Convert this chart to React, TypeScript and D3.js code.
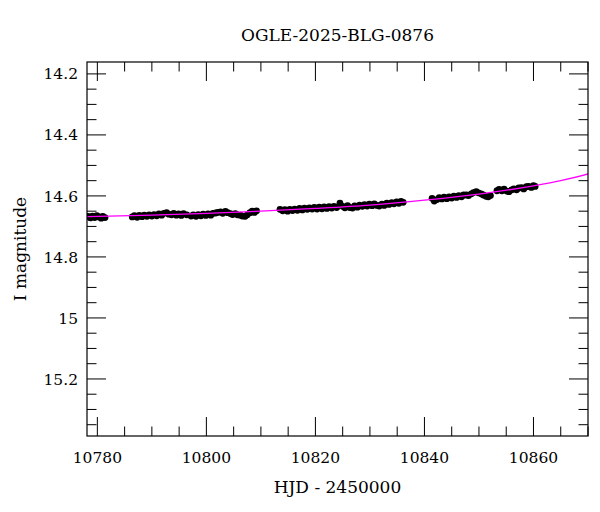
import React from "react";
import * as d3 from "d3";

const TITLE = "OGLE-2025-BLG-0876";
const X_LABEL = "HJD - 2450000";
const Y_LABEL = "I magnitude";

const X_DOMAIN = [10778.1, 10870];
const Y_DOMAIN = [14.161, 15.387];
const X_MAJOR = [10780, 10800, 10820, 10840, 10860];
const Y_MAJOR = [14.2, 14.4, 14.6, 14.8, 15, 15.2];
const Y_MAJOR_LABELS = ["14.2", "14.4", "14.6", "14.8", "15", "15.2"];

// observations (HJD - 2450000)
const hjd = [
  10778.3, 10778.7, 10779.1, 10779.5, 10779.9, 10780.3, 10780.7, 10781.0, 10781.4,
  10786.4, 10786.8, 10787.3, 10787.7, 10788.2, 10788.6, 10789.1, 10789.5, 10790.0, 10790.4,
  10790.9, 10791.3, 10791.8, 10792.2, 10792.7, 10793.1, 10793.6, 10794.0, 10794.5, 10794.9,
  10795.4, 10795.8, 10796.4,
  10797.2, 10797.6, 10798.1, 10798.5, 10799.0, 10799.4, 10799.9, 10800.3, 10800.8, 10801.2,
  10801.7, 10802.1, 10802.6, 10803.0, 10803.5, 10803.9, 10804.4, 10804.8, 10805.3, 10805.7,
  10806.2, 10806.6, 10807.1, 10807.5, 10808.0, 10808.4, 10808.8, 10809.2,
  10813.5, 10814.0, 10814.4, 10814.9, 10815.3, 10815.8, 10816.2, 10816.7, 10817.1, 10817.6,
  10818.0, 10818.5, 10818.9, 10819.4, 10819.8, 10820.3, 10820.7, 10821.2, 10821.6, 10822.1,
  10822.5, 10823.0, 10823.4, 10823.9, 10824.5, 10825.0, 10825.4, 10825.9, 10826.3, 10826.8,
  10827.2, 10827.7, 10828.1, 10828.6, 10829.0, 10829.5, 10829.9, 10830.4, 10830.8, 10831.3,
  10831.7, 10832.2, 10832.6, 10833.1, 10833.5, 10834.0, 10834.4, 10834.9, 10835.3, 10835.7,
  10836.1,
  10841.4, 10841.8, 10842.3, 10842.7, 10843.2, 10843.6, 10844.1, 10844.5, 10845.0, 10845.4,
  10845.9, 10846.3, 10846.8, 10847.2, 10847.7, 10848.1, 10848.6, 10849.0, 10849.5, 10849.9,
  10850.4, 10850.8, 10851.3, 10851.7, 10852.1,
  10853.3, 10853.7, 10854.2, 10854.6, 10855.1, 10855.5, 10856.0, 10856.4, 10856.9, 10857.3,
  10857.8, 10858.2, 10858.7, 10859.1, 10859.6, 10860.0, 10860.3,
];

const imag = [
  14.667, 14.672, 14.666, 14.671, 14.665, 14.669, 14.673, 14.667, 14.671,
  14.669, 14.665, 14.670, 14.664, 14.668, 14.663, 14.667, 14.662, 14.666, 14.661,
  14.665, 14.659, 14.663, 14.657, 14.655, 14.660, 14.662, 14.657, 14.663, 14.659,
  14.664, 14.658, 14.662,
  14.666, 14.662, 14.667, 14.661, 14.665, 14.660, 14.664, 14.659, 14.663, 14.657,
  14.656, 14.654, 14.652, 14.657, 14.651, 14.655, 14.658, 14.661, 14.658, 14.662,
  14.663, 14.666, 14.667, 14.662, 14.655, 14.650, 14.654, 14.649,
  14.644, 14.649, 14.645, 14.650, 14.644, 14.648, 14.643, 14.647, 14.641, 14.646,
  14.640, 14.644, 14.639, 14.643, 14.638, 14.643, 14.637, 14.642, 14.636, 14.641,
  14.635, 14.640, 14.634, 14.638, 14.624, 14.634, 14.639, 14.632, 14.638, 14.640,
  14.633, 14.637, 14.630, 14.634, 14.629, 14.633, 14.627, 14.632, 14.626, 14.631,
  14.633, 14.627, 14.631, 14.624, 14.628, 14.622, 14.626, 14.620, 14.624, 14.618,
  14.621,
  14.608, 14.617, 14.612, 14.606, 14.610, 14.604, 14.609, 14.603, 14.607, 14.601,
  14.605, 14.599, 14.603, 14.597, 14.597, 14.599, 14.593, 14.589, 14.586, 14.590,
  14.593, 14.597, 14.601, 14.603, 14.599,
  14.583, 14.579, 14.583, 14.578, 14.584, 14.586, 14.580, 14.577, 14.580, 14.574,
  14.573, 14.577, 14.570, 14.569, 14.572, 14.566, 14.569,
];

// model curve (read at sample dates)
const modelHjd = [10770, 10778, 10790, 10800, 10810, 10820, 10830, 10840, 10850, 10860, 10865, 10870, 10875];
const modelMag = [14.671, 14.668, 14.663, 14.657, 14.650, 14.641, 14.630, 14.614, 14.594, 14.567, 14.550, 14.528, 14.502];

const W = 600;
const H = 512;
const M = { left: 87, right: 588, top: 62, bottom: 436 };

export default function App() {
  const x = d3.scaleLinear().domain(X_DOMAIN).range([M.left, M.right]);
  const y = d3.scaleLinear().domain(Y_DOMAIN).range([M.top, M.bottom]);

  const xMinor = d3.range(10780, 10871, 5).filter((v) => v >= X_DOMAIN[0] && v <= X_DOMAIN[1] && !X_MAJOR.includes(v));
  const yMinor = d3
    .range(14.2, 15.4, 0.05)
    .map((v) => Math.round(v * 100) / 100)
    .filter((v) => v >= Y_DOMAIN[0] && v <= Y_DOMAIN[1] && !Y_MAJOR.some((m) => Math.abs(m - v) < 1e-6));

  const line = d3
    .line<number>()
    .x((_, i) => x(modelHjd[i]))
    .y((d) => y(d))
    .curve(d3.curveMonotoneX);

  const MAJ = 19;
  const MIN = 9.5;
  const font = "'DejaVu Serif', serif";

  return (
    <svg
      width={W}
      height={H}
      style={{ position: "absolute", left: 0, top: 0, background: "#fff" }}
      fontFamily={font}
    >
      <defs>
        <clipPath id="plot-clip">
          <rect x={M.left} y={M.top} width={M.right - M.left} height={M.bottom - M.top} />
        </clipPath>
      </defs>
      <rect x={0} y={0} width={W} height={H} fill="#fff" />

      <g clipPath="url(#plot-clip)">
        {hjd.map((t, i) => (
          <circle key={i} cx={x(t)} cy={y(imag[i])} r={3.4} fill="#000" />
        ))}
        <path d={line(modelMag) || ""} fill="none" stroke="#ff00ff" strokeWidth={1.3} />
      </g>

      {/* ticks */}
      <g stroke="#000" strokeWidth={1}>
        {X_MAJOR.map((v) => (
          <g key={"xM" + v}>
            <line x1={x(v)} x2={x(v)} y1={M.bottom} y2={M.bottom - MAJ} />
            <line x1={x(v)} x2={x(v)} y1={M.top} y2={M.top + MAJ} />
          </g>
        ))}
        {xMinor.map((v) => (
          <g key={"xm" + v}>
            <line x1={x(v)} x2={x(v)} y1={M.bottom} y2={M.bottom - MIN} />
            <line x1={x(v)} x2={x(v)} y1={M.top} y2={M.top + MIN} />
          </g>
        ))}
        {Y_MAJOR.map((v) => (
          <g key={"yM" + v}>
            <line x1={M.left} x2={M.left + MAJ} y1={y(v)} y2={y(v)} />
            <line x1={M.right} x2={M.right - MAJ} y1={y(v)} y2={y(v)} />
          </g>
        ))}
        {yMinor.map((v) => (
          <g key={"ym" + v}>
            <line x1={M.left} x2={M.left + MIN} y1={y(v)} y2={y(v)} />
            <line x1={M.right} x2={M.right - MIN} y1={y(v)} y2={y(v)} />
          </g>
        ))}
      </g>

      <rect
        x={M.left}
        y={M.top}
        width={M.right - M.left}
        height={M.bottom - M.top}
        fill="none"
        stroke="#000"
        strokeWidth={1.2}
      />

      {/* tick labels */}
      {X_MAJOR.map((v) => (
        <text key={"xl" + v} x={x(v)} y={M.bottom + 27} textAnchor="middle" fontSize={15.5} fill="#000">
          {String(v)}
        </text>
      ))}
      {Y_MAJOR.map((v, i) => (
        <text
          key={"yl" + v}
          x={M.left - 9}
          y={y(v)}
          dy="0.36em"
          textAnchor="end"
          fontSize={15.5}
          fill="#000"
        >
          {Y_MAJOR_LABELS[i]}
        </text>
      ))}

      <text x={(M.left + M.right) / 2} y={41} textAnchor="middle" fontSize={17} fill="#000">
        {TITLE}
      </text>
      <text x={(M.left + M.right) / 2} y={493} textAnchor="middle" fontSize={17} fill="#000">
        {X_LABEL}
      </text>
      <text
        transform={`translate(26, ${(M.top + M.bottom) / 2}) rotate(-90)`}
        textAnchor="middle"
        fontSize={17}
        fill="#000"
      >
        {Y_LABEL}
      </text>
    </svg>
  );
}
